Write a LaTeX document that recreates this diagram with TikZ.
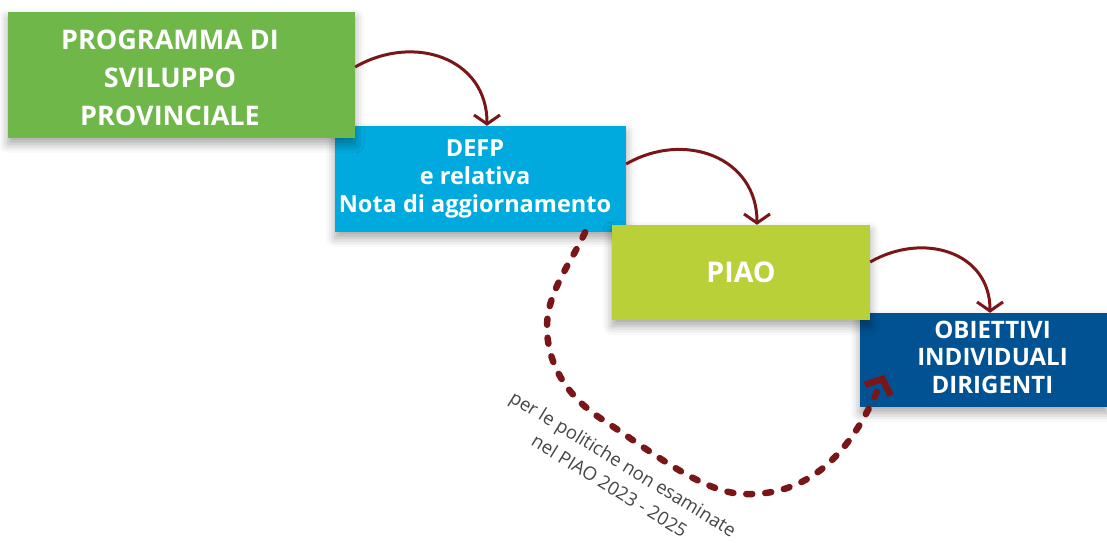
\documentclass[tikz,border=0pt]{standalone}
\usepackage{fontspec}
\setmainfont{Open Sans}
\usetikzlibrary{arrows.meta,shadows.blur,calc}
\definecolor{cgreen}{HTML}{6FB748}
\definecolor{ccyan}{HTML}{00AADE}
\definecolor{clime}{HTML}{B9D039}
\definecolor{cnavy}{HTML}{005293}
\definecolor{cred}{HTML}{7A1618}
\definecolor{cgray}{HTML}{454545}
\begin{document}
\begin{tikzpicture}[x=1pt,y=1pt,
  box/.style={rectangle, inner sep=0pt, text=white,
    blur shadow={shadow xshift=0pt, shadow yshift=-6pt, shadow blur radius=9pt, shadow opacity=35}},
  flow/.style={draw=cred, line width=3pt, -{Straight Barb[length=9pt,width=26pt]},
    out=30, in=90, looseness=1.2},
  back/.style={draw=cred, line width=6.5pt, line cap=round, dash pattern=on 6pt off 13pt,
    -{Straight Barb[length=12pt,width=28pt]}},
  note/.style={text=cgray, align=center, font=\fontsize{18.5}{26}\selectfont, rotate=-31.5}
]
\useasboundingbox (0,0) rectangle (1107,542);
\node[box, fill=ccyan, minimum width=291pt, minimum height=106pt,
  font=\bfseries\fontsize{23.5}{28}\selectfont] (defp) at (480.5,363)
  {\begin{tabular}{@{}c@{}}DEFP\\e relativa\\Nota di aggiornamento\end{tabular}\hspace*{11pt}};
\node[box, fill=cgreen, minimum width=347pt, minimum height=126pt,
  font=\bfseries\fontsize{27}{38}\selectfont] (green) at (181.5,467)
  {\raisebox{-5pt}[\height][\depth]{\begin{tabular}{@{}c@{}}PROGRAMMA DI\\SVILUPPO\\PROVINCIALE\end{tabular}}\hspace*{23pt}};
\node[box, fill=cnavy, minimum width=247pt, minimum height=94pt,
  font=\bfseries\fontsize{24}{27.5}\selectfont] (obj) at (983.5,182)
  {\hspace*{18pt}\begin{tabular}{@{}c@{}}OBIETTIVI\\INDIVIDUALI\\DIRIGENTI\end{tabular}};
\node[box, fill=clime, minimum width=258pt, minimum height=95pt,
  font=\bfseries\fontsize{28.5}{34}\selectfont] (piao) at (741,269.5) {PIAO};

\draw[flow] ($(green.east)+(0,8)$) to ($(defp.north)+(6.5,0)$);
\draw[flow] ($(defp.east)+(0,15)$) to ($(piao.north)+(16,0)$);
\draw[flow] ($(piao.east)+(0,10.5)$) to ($(obj.north)+(6.5,0)$);

\coordinate (ds) at ($(defp.south west)!0.859!(defp.south east)$);
\coordinate (dl) at (547,215);
\coordinate (dc) at (600,124);
\coordinate (db) at (745,48);
\coordinate (de) at (884,167);
\draw[back] (ds) .. controls (571,279) and (547,250) .. (dl)
  .. controls (547,175) and (570,144) .. (dc)
  .. controls (648,93) and (703,48) .. (db)
  .. controls (815,46) and (855,97) .. (de);

\node[note] (note) at (616.5,67.5) {per le politiche non esaminate\\nel PIAO 2023 - 2025};
\end{tikzpicture}
\end{document}
